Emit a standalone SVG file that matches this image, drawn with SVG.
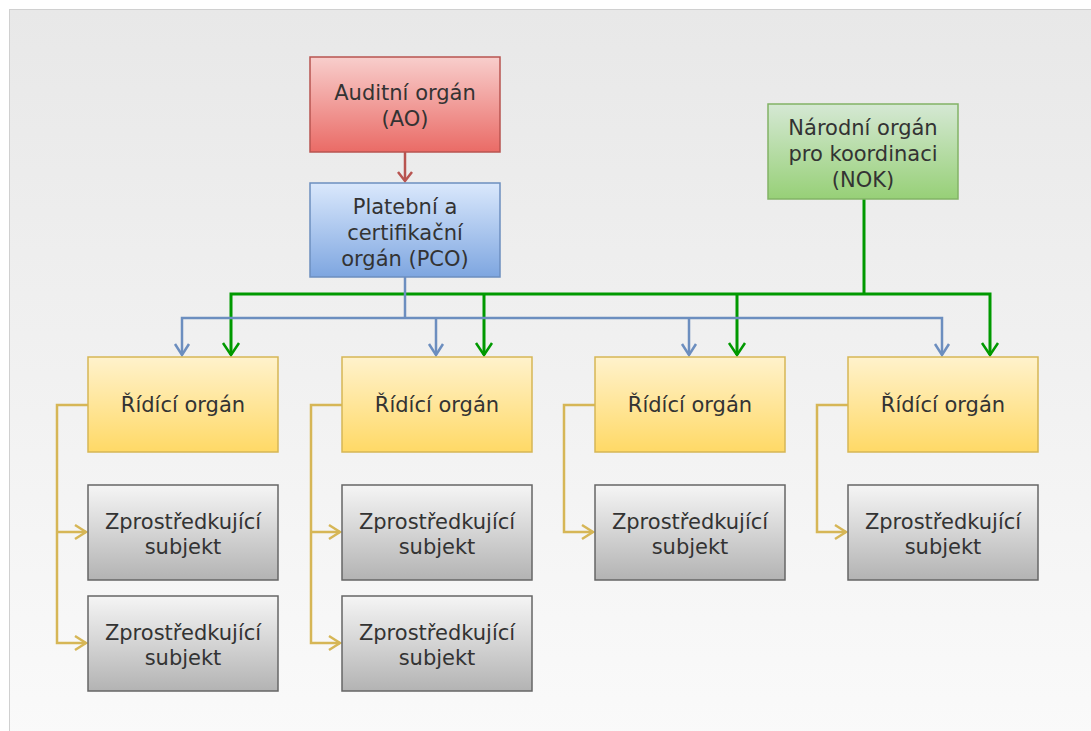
<svg xmlns="http://www.w3.org/2000/svg" width="1091" height="731" viewBox="0 0 1091 731">
<defs>
<linearGradient id="bg" x1="0" y1="0" x2="0" y2="1"><stop offset="0" stop-color="#e8e8e8"/><stop offset="1" stop-color="#fafafa"/></linearGradient>
<linearGradient id="gRed" x1="0" y1="0" x2="0" y2="1"><stop offset="0" stop-color="#f8cecc"/><stop offset="1" stop-color="#ea6b66"/></linearGradient>
<linearGradient id="gBlue" x1="0" y1="0" x2="0" y2="1"><stop offset="0" stop-color="#dae8fc"/><stop offset="1" stop-color="#7ea6e0"/></linearGradient>
<linearGradient id="gGreen" x1="0" y1="0" x2="0" y2="1"><stop offset="0" stop-color="#d5e8d4"/><stop offset="1" stop-color="#97d077"/></linearGradient>
<linearGradient id="gYellow" x1="0" y1="0" x2="0" y2="1"><stop offset="0" stop-color="#fff2cc"/><stop offset="1" stop-color="#ffd966"/></linearGradient>
<linearGradient id="gGray" x1="0" y1="0" x2="0" y2="1"><stop offset="0" stop-color="#f5f5f5"/><stop offset="1" stop-color="#b3b3b3"/></linearGradient>
<style>
.box{stroke-width:1.5}
.t{font-family:"DejaVu Sans",Verdana,sans-serif;font-size:21px;fill:#333333;text-anchor:middle}
.blue{fill:none;stroke:#6c8ebf;stroke-width:2.5}
.green{fill:none;stroke:#009900;stroke-width:3}
.yel{fill:none;stroke:#d6b656;stroke-width:2.5}
.head{fill:none;stroke-width:2.5;stroke-linejoin:miter}
</style>
</defs>
<rect x="0" y="0" width="1091" height="731" fill="#ffffff"/>
<rect x="9.5" y="9.5" width="1090" height="730" fill="url(#bg)" stroke="#d0d0d0" stroke-width="1"/>

<g id="connectors">
  <path d="M405,152 V181" fill="none" stroke="#b85450" stroke-width="2.5"/>
  <path class="head" stroke="#b85450" d="M398,172 L405,181 L412,172"/>
  <path class="green" d="M864,199 V294"/>
  <path class="green" d="M231,355 V294 H990 V355"/>
  <path class="green" d="M484,294 V355"/>
  <path class="green" d="M737,294 V355"/>
  <g class="head" stroke="#009900" stroke-width="3">
    <path d="M223,343 L231,355 L239,343"/>
    <path d="M476,343 L484,355 L492,343"/>
    <path d="M729,343 L737,355 L745,343"/>
    <path d="M982,343 L990,355 L998,343"/>
  </g>
  <path class="blue" stroke-width="3" d="M405,277 V318"/>
  <path class="blue" d="M182,355 V318 H942 V355"/>
  <path class="blue" d="M436,318 V355"/>
  <path class="blue" d="M689,318 V355"/>
  <g class="head" stroke="#6c8ebf">
    <path d="M175,344 L182,355 L189,344"/>
    <path d="M429,344 L436,355 L443,344"/>
    <path d="M682,344 L689,355 L696,344"/>
    <path d="M935,344 L942,355 L949,344"/>
  </g>
  <path class="yel" d="M88,405 H57 V643 H86"/>
  <path class="yel" d="M57,532 H86"/>
  <path class="yel" d="M342,405 H311 V643 H340"/>
  <path class="yel" d="M311,532 H340"/>
  <path class="yel" d="M595,405 H564 V532 H593"/>
  <path class="yel" d="M848,405 H817 V532 H846"/>
  <g class="head" stroke="#d6b656">
    <path d="M75,525 L86,532 L75,539"/>
    <path d="M75,636 L86,643 L75,650"/>
    <path d="M329,525 L340,532 L329,539"/>
    <path d="M329,636 L340,643 L329,650"/>
    <path d="M582,525 L593,532 L582,539"/>
    <path d="M835,525 L846,532 L835,539"/>
  </g>
</g>

<g id="ao"><rect class="box" x="310" y="57" width="190" height="95" fill="url(#gRed)" stroke="#b85450"/>
<text class="t" x="405" y="100">Auditní orgán</text><text class="t" x="405" y="126">(AO)</text></g>

<g id="pco"><rect class="box" x="310" y="183" width="190" height="94" fill="url(#gBlue)" stroke="#6c8ebf"/>
<text class="t" x="405" y="214">Platební a</text><text class="t" x="405" y="240">certifikační</text><text class="t" x="405" y="266">orgán (PCO)</text></g>

<g id="nok"><rect class="box" x="768" y="104" width="190" height="95" fill="url(#gGreen)" stroke="#82b366"/>
<text class="t" x="863" y="135">Národní orgán</text><text class="t" x="863" y="161">pro koordinaci</text><text class="t" x="863" y="187">(NOK)</text></g>

<g id="ro1"><rect class="box" x="88" y="357" width="190" height="95" fill="url(#gYellow)" stroke="#d6b656"/><text class="t" x="183" y="412">Řídící orgán</text></g>
<g id="ro2"><rect class="box" x="342" y="357" width="190" height="95" fill="url(#gYellow)" stroke="#d6b656"/><text class="t" x="437" y="412">Řídící orgán</text></g>
<g id="ro3"><rect class="box" x="595" y="357" width="190" height="95" fill="url(#gYellow)" stroke="#d6b656"/><text class="t" x="690" y="412">Řídící orgán</text></g>
<g id="ro4"><rect class="box" x="848" y="357" width="190" height="95" fill="url(#gYellow)" stroke="#d6b656"/><text class="t" x="943" y="412">Řídící orgán</text></g>

<g id="zs1a"><rect class="box" x="88" y="485" width="190" height="95" fill="url(#gGray)" stroke="#666666"/><text class="t" x="183" y="529">Zprostředkující</text><text class="t" x="183" y="554">subjekt</text></g>
<g id="zs1b"><rect class="box" x="88" y="596" width="190" height="95" fill="url(#gGray)" stroke="#666666"/><text class="t" x="183" y="640">Zprostředkující</text><text class="t" x="183" y="665">subjekt</text></g>
<g id="zs2a"><rect class="box" x="342" y="485" width="190" height="95" fill="url(#gGray)" stroke="#666666"/><text class="t" x="437" y="529">Zprostředkující</text><text class="t" x="437" y="554">subjekt</text></g>
<g id="zs2b"><rect class="box" x="342" y="596" width="190" height="95" fill="url(#gGray)" stroke="#666666"/><text class="t" x="437" y="640">Zprostředkující</text><text class="t" x="437" y="665">subjekt</text></g>
<g id="zs3"><rect class="box" x="595" y="485" width="190" height="95" fill="url(#gGray)" stroke="#666666"/><text class="t" x="690" y="529">Zprostředkující</text><text class="t" x="690" y="554">subjekt</text></g>
<g id="zs4"><rect class="box" x="848" y="485" width="190" height="95" fill="url(#gGray)" stroke="#666666"/><text class="t" x="943" y="529">Zprostředkující</text><text class="t" x="943" y="554">subjekt</text></g>
</svg>
